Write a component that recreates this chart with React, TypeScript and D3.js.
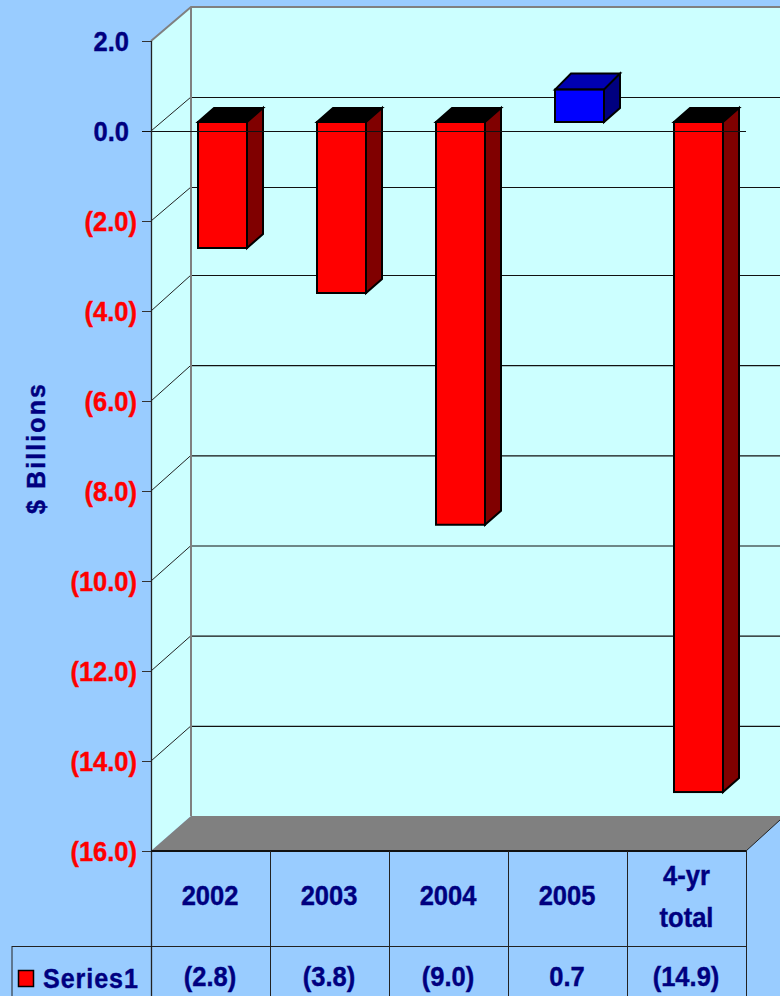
import React from "react";
import * as d3 from "d3";

const categories = ["2002", "2003", "2004", "2005", "4-yr total"];
const values = [-2.8, -3.8, -8.95, 0.72, -14.89];
const tableLabels = ["(2.8)", "(3.8)", "(9.0)", "0.7", "(14.9)"];
const tickValues = [2, 0, -2, -4, -6, -8, -10, -12, -14, -16];
const tickLabels = ["2.0", "0.0", "(2.0)", "(4.0)", "(6.0)", "(8.0)", "(10.0)", "(12.0)", "(14.0)", "(16.0)"];
const seriesName = "Series1";
const axisTitle = "$ Billions";

const NAVY = "#000080";
const RED = "#FF0000";
const BG = "#99CCFF";
const WALL = "#CCFFFF";
const FONT = "'Liberation Sans', Arial, sans-serif";

const y = d3.scaleLinear().domain([2, -16]).range([41, 851]);
const yBack = d3.scaleLinear().domain([2, 0, -2, -4, -16]).range([7, 97, 187, 275, 816]);
const x = d3.scaleBand().domain(categories).range([151, 746]);
const depthX = 40;
const barDX = 16, barDY = 14, barTopDYPos = 16;
const barInset = 47, barW = 49, barShift = 9;

function Txt({ x, y, children, fill = NAVY, anchor = "middle", size = 27 }: any) {
  return (
    <text transform={`translate(${x},${y}) scale(0.945,1)`} textAnchor={anchor} fill={fill} stroke={fill} strokeWidth={0.4}
      fontFamily={FONT} fontWeight="700" fontSize={size}>{children}</text>
  );
}

export default function App() {
  const right = 780;
  const bl = 151, br = 746;
  const bottom = y(-16);
  const backBottom = yBack(-16);
  return (
    <svg width={780} height={996} style={{ position: "fixed", left: 0, top: 0, display: "block" }}>
      <rect width={780} height={996} fill={BG} />
      {/* walls */}
      <polygon points={`${bl},${y(2)} ${bl + depthX},${yBack(2)} ${bl + depthX},${backBottom} ${bl},${bottom}`} fill={WALL} />
      <rect x={bl + depthX} y={yBack(2)} width={right - bl - depthX} height={backBottom - yBack(2)} fill={WALL} />
      {/* floor */}
      <polygon points={`${bl},${bottom} ${bl + depthX},${backBottom} ${right},${backBottom} ${right},${bottom - 31} ${br},${bottom}`} fill="#808080" />
      <line x1={br} y1={bottom} x2={right} y2={bottom - 31} stroke="#222" strokeWidth={1} />
      {/* gridlines */}
      {tickValues.map((t, i) => (
        <g key={t}>
          {t !== 2 && t !== -16 && (
            <>
              <line x1={bl + depthX} x2={right} y1={yBack(t) + 0.5} y2={yBack(t) + 0.5} stroke="#111" strokeWidth={1.2} />
              <line x1={bl} x2={bl + depthX} y1={y(t)} y2={yBack(t)} stroke="#222" strokeWidth={1} />
            </>
          )}
          <line x1={142} x2={bl} y1={y(t) + 0.5} y2={y(t) + 0.5} stroke="#333" strokeWidth={1} />
          <Txt x={t < 0 ? 137 : 129} y={y(t) + 9.5} anchor="end" fill={t < 0 ? RED : NAVY}>{tickLabels[i]}</Txt>
        </g>
      ))}
      {/* wall edges */}
      <polyline points={`${bl},${y(2)} ${bl + depthX},${yBack(2)} ${right},${yBack(2)}`} fill="none" stroke="#808080" strokeWidth={2} />
      <line x1={bl + depthX} x2={bl + depthX} y1={yBack(2)} y2={backBottom} stroke="#808080" strokeWidth={2} />
      {/* bars */}
      {categories.map((c, i) => {
        const v = values[i];
        const bx = (x(c) as number) + barInset;
        const top = y(Math.max(v, 0)) - barShift;
        const bot = y(Math.min(v, 0)) - barShift;
        const neg = v < 0;
        const topDY = neg ? barDY : barTopDYPos;
        return (
          <g key={c} stroke="#000" strokeWidth={2} strokeLinejoin="miter">
            <polygon points={`${bx},${top} ${bx + barDX},${top - topDY} ${bx + barW + barDX},${top - topDY} ${bx + barW},${top}`} fill={neg ? "#000000" : "#0000B0"} />
            <polygon points={`${bx + barW},${top} ${bx + barW + barDX},${top - topDY} ${bx + barW + barDX},${bot - barDY} ${bx + barW},${bot}`} fill={neg ? "#800000" : "#000080"} />
            <rect x={bx} y={top} width={barW} height={bot - top} fill={neg ? RED : "#0000FF"} />
          </g>
        );
      })}
      {/* zero line in front */}
      <line x1={142} x2={br} y1={y(0) + 0.5} y2={y(0) + 0.5} stroke="#111" strokeWidth={1} />
      {/* axis */}
      <line x1={bl + 0.5} x2={bl + 0.5} y1={y(2)} y2={996} stroke="#222" strokeWidth={1.3} />
      {/* table */}
      <line x1={bl} x2={br} y1={bottom} y2={bottom} stroke="#111" strokeWidth={2} />
      <line x1={12} x2={br} y1={946.5} y2={946.5} stroke="#222" strokeWidth={1} />
      <line x1={12} x2={12} y1={946} y2={996} stroke="#222" strokeWidth={1} />
      {categories.map((c, i) => {
        const cx = (x(c) as number) + x.bandwidth() / 2;
        const xr = (x(c) as number) + x.bandwidth();
        const parts = c === "4-yr total" ? ["4-yr", "total"] : [c];
        return (
          <g key={c}>
            <line x1={xr + 0.5} x2={xr + 0.5} y1={bottom} y2={996} stroke="#222" strokeWidth={1} />
            {parts.length === 1 ? (
              <Txt x={cx - 0.5} y={904.5}>{parts[0]}</Txt>
            ) : (
              <>
                <Txt x={cx} y={885}>{parts[0]}</Txt>
                <Txt x={cx} y={926.5}>{parts[1]}</Txt>
              </>
            )}
            <Txt x={cx - 0.5} y={986}>{tableLabels[i]}</Txt>
          </g>
        );
      })}
      {/* legend */}
      <rect x={18.5} y={970.5} width={15} height={16} fill={RED} stroke="#000" strokeWidth={1.5} />
      <text fill={NAVY} stroke={NAVY} strokeWidth={0.4} fontFamily={FONT} fontWeight="700" fontSize={27} letterSpacing={1}
        transform="translate(43,988) scale(0.93,1)">{seriesName}</text>
      {/* axis title */}
      <text transform="translate(44.5,448) rotate(-90)" textAnchor="middle" fill={NAVY} stroke={NAVY} strokeWidth={0.4} fontFamily={FONT} fontWeight="700" fontSize={25} letterSpacing={2.1}>{axisTitle}</text>
    </svg>
  );
}
